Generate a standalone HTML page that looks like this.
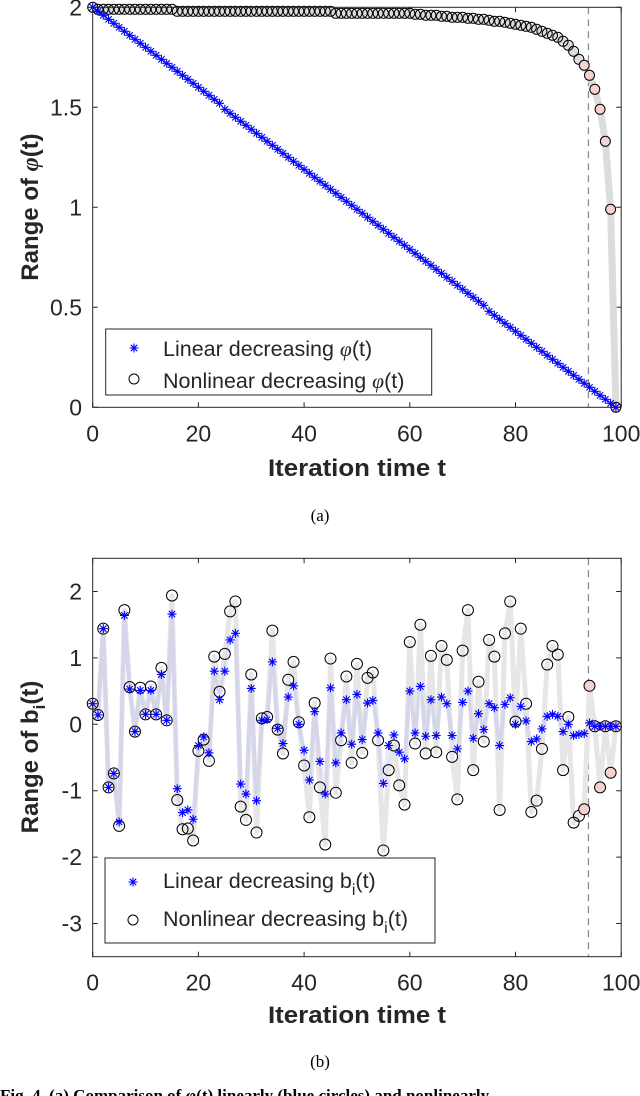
<!DOCTYPE html>
<html><head><meta charset="utf-8">
<style>
html,body{margin:0;padding:0;background:#fff;}
svg{display:block;}
text{font-family:"Liberation Sans",sans-serif;fill:#262626;}
</style></head>
<body>
<svg id="fig" width="640" height="1096" viewBox="0 0 640 1096" xmlns="http://www.w3.org/2000/svg">
<g id="chartA"></g>
<g id="chartB"></g>
<text x="320" y="521" text-anchor="middle" style="font-family:'Liberation Serif',serif;font-size:17px;fill:#000">(a)</text>
<text x="320" y="1067" text-anchor="middle" style="font-family:'Liberation Serif',serif;font-size:17px;fill:#000">(b)</text>
<text x="0" y="1101" style="font-family:'Liberation Serif',serif;font-size:17px;font-weight:bold;fill:#000">Fig. 4.  (a) Comparison of φ(t) linearly (blue circles) and nonlinearly</text>
</svg>
<script>
// ---- data: chart (a) ----
const tA = [0,1,2,3,4,5,6,7,8,9,10,11,12,13,14,15,16,17,18,19,20,21,22,23,24,25,26,27,28,29,30,31,32,33,34,35,36,37,38,39,40,41,42,43,44,45,46,47,48,49,50,51,52,53,54,55,56,57,58,59,60,61,62,63,64,65,66,67,68,69,70,71,72,73,74,75,76,77,78,79,80,81,82,83,84,85,86,87,88,89,90,91,92,93,94,95,96,97,98,99];
const phiLinear = [2.00,1.98,1.96,1.94,1.92,1.90,1.88,1.86,1.84,1.82,
1.80,1.78,1.76,1.74,1.72,1.70,1.68,1.66,1.64,1.62,
1.60,1.58,1.56,1.54,1.52,1.49,1.47,1.45,1.43,1.41,
1.39,1.37,1.35,1.33,1.31,1.29,1.27,1.25,1.23,1.21,
1.19,1.17,1.15,1.13,1.11,1.09,1.07,1.05,1.03,1.01,
0.99,0.97,0.95,0.93,0.91,0.89,0.87,0.85,0.83,0.81,
0.79,0.77,0.75,0.73,0.71,0.69,0.67,0.65,0.63,0.61,
0.59,0.57,0.55,0.53,0.51,0.48,0.46,0.44,0.42,0.40,
0.38,0.36,0.34,0.32,0.30,0.28,0.26,0.24,0.22,0.20,
0.18,0.16,0.14,0.12,0.10,0.08,0.06,0.04,0.02,0.00];
const phiNonlinear = [2.00,
1.99,1.99,1.99,1.99,1.99,1.99,1.99,1.99,1.99,1.99,1.99,1.99,1.99,1.99,1.99,
1.98,1.98,1.98,1.98,1.98,1.98,1.98,1.98,1.98,1.98,1.98,1.98,1.98,1.98,1.98,
1.98,1.98,1.98,1.98,1.98,1.98,1.98,1.98,1.98,1.98,1.98,1.98,1.98,1.98,1.98,
1.97,1.97,1.97,1.97,1.97,1.97,1.97,1.97,1.97,1.97,1.97,1.97,1.97,1.97,1.97,
1.965,1.965,1.96,1.96,1.96,1.955,1.955,1.95,
1.95,1.95,1.945,1.945,1.94,1.94,
1.935,1.93,1.93,1.925,1.92,
1.915,1.91,1.905,
1.90,1.89,
1.88,1.87,1.86,1.85,1.83,1.81,1.78,1.74,1.71,1.66,1.59,1.49,1.33,0.99,0.00];
const xTicks = [0,20,40,60,80,100];
const xTickLabels = ["0","20","40","60","80","100"];
const yTicksA = [0,0.5,1,1.5,2];
const yTickLabelsA = ["0","0.5","1","1.5","2"];
// ---- data: chart (b) ----
const bLinear = [0.31,0.14,1.44,-0.95,-0.74,-1.47,1.64,0.53,-0.11,0.51,
0.15,0.51,0.15,0.75,0.06,1.66,-0.97,-1.33,-1.29,-1.43,
-0.32,-0.19,-0.43,0.80,0.37,0.80,1.27,1.37,-0.90,-1.05,
0.54,-1.15,0.06,0.07,0.94,-0.06,-0.29,0.41,0.58,0.00,
-0.39,-0.84,0.19,-0.56,-1.05,0.55,-0.58,-0.13,0.37,-0.30,
0.45,-0.23,0.32,0.36,-0.13,-0.89,-0.32,-0.16,-0.42,-0.52,
0.50,-0.13,0.57,-0.18,0.37,-0.17,0.41,0.31,-0.17,-0.37,
0.33,0.50,-0.21,0.16,-0.08,0.31,0.25,-0.32,0.30,0.40,
0.00,0.27,0.05,-0.26,-0.22,-0.07,0.12,0.15,0.12,-0.11,
0.00,-0.17,-0.15,-0.14,0.02,-0.03,-0.03,-0.03,-0.03,-0.03];
const bNonlinear = [0.31,0.14,1.44,-0.95,-0.74,-1.53,1.72,0.56,-0.11,0.55,
0.15,0.57,0.15,0.85,0.06,1.94,-1.14,-1.58,-1.57,-1.75,
-0.40,-0.23,-0.55,1.02,0.49,1.06,1.70,1.85,-1.24,-1.44,
0.75,-1.63,0.09,0.11,1.41,-0.08,-0.44,0.67,0.94,0.03,
-0.62,-1.40,0.32,-0.95,-1.81,0.99,-1.03,-0.24,0.72,-0.58,
0.91,-0.43,0.70,0.78,-0.24,-1.90,-0.69,-0.32,-0.92,-1.21,
1.24,-0.29,1.50,-0.44,1.03,-0.42,1.18,0.97,-0.49,-1.13,
1.11,1.72,-0.69,0.64,-0.26,1.27,1.02,-1.29,1.37,1.85,
0.04,1.44,0.31,-1.32,-1.15,-0.37,0.90,1.18,1.05,-0.69,
0.11,-1.48,-1.38,-1.28,0.58,-0.03,-0.95,-0.03,-0.73,-0.03];
const yTicksB = [-3,-2,-1,0,1,2];
const yTickLabelsB = ["-3","-2","-1","0","1","2"];
const highlightStart = 93;
const switchTime = 93.8;

const NS = "http://www.w3.org/2000/svg";
function mk(tag, attrs, parent){const e=document.createElementNS(NS,tag);for(const k in attrs)e.setAttribute(k,attrs[k]);parent.appendChild(e);return e;}

const X0=92.7, X1=621.2;
function xs(t){return X0+(t/100)*(X1-X0);}

function drawAxes(g, top, bottom, yScale, yT, yL){
  mk("rect",{x:X0,y:top,width:X1-X0,height:bottom-top,fill:"#fff",stroke:"none"},g);
  xTicks.forEach((t,i)=>{
    const x=xs(t);
    const tk=mk("path",{d:`M${x},${bottom}v-5M${x},${top}v5`,stroke:"#262626","stroke-width":1},g);
    
    
    const lb=mk("text",{x:x,y:bottom+34,"text-anchor":"middle","font-size":"23"},g);
    lb.textContent=xTickLabels[i];
    
    
  });
  yT.forEach((v,i)=>{
    const y=yScale(v);
    const tk=mk("path",{d:`M${X0},${y}h5M${X1},${y}h-5`,stroke:"#262626","stroke-width":1},g);
    
    
    const lb=mk("text",{x:82,y:y+8,"text-anchor":"end","font-size":"23"},g);
    lb.textContent=yL[i];
    
    
  });
}
function star(g,x,y){
  return mk("path",{d:`M${x-4.5},${y}h9M${x},${y-4.5}v9M${x-3.2},${y-3.2}l6.4,6.4M${x-3.2},${y+3.2}l6.4,-6.4`,stroke:"#0000ff","stroke-width":1.1},g);
}
function frame(g,top,bottom){
  const f=mk("rect",{x:X0,y:top,width:X1-X0,height:bottom-top,fill:"none",stroke:"#262626","stroke-width":1},g);
  
  
}

// ---------- Chart A ----------
(function(){
  const g=document.getElementById("chartA");
  const top=7.3,bottom=407.3;
  const ys=v=>bottom-(v/2)*(bottom-top);
  drawAxes(g,top,bottom,ys,yTicksA,yTickLabelsA);
  const dl=mk("line",{x1:xs(switchTime),x2:xs(switchTime),y1:top,y2:bottom,stroke:"#8c8c8c","stroke-width":1.3,"stroke-dasharray":"7,5"},g);
  
  
  const gl=mk("polyline",{points:tA.map((t,i)=>xs(t)+","+ys(phiNonlinear[i])).join(" "),fill:"none",stroke:"#dcdcdc","stroke-width":7,"stroke-linejoin":"round"},g);
  
  
  tA.forEach((t,i)=>{
    const c=mk("circle",{cx:xs(t),cy:ys(phiNonlinear[i]),r:5,fill:t>=highlightStart?"#f8d0d0":"none",stroke:"#000","stroke-width":1},g);
    
    
  });
  tA.forEach((t,i)=>{
    const s=star(g,xs(t),ys(phiLinear[i]));
    
    
  });
  frame(g,top,bottom);
  const lg=mk("g",{},g);
  
  
  mk("rect",{x:105.7,y:329,width:326,height:66,fill:"#fff",stroke:"#262626","stroke-width":1},lg);
  star(lg,134,348);
  mk("circle",{cx:134,cy:379,r:5,fill:"none",stroke:"#000"},lg);
  const t1=mk("text",{x:163,y:356,"font-size":"21.5"},lg);
  t1.innerHTML='Linear decreasing <tspan font-family="Liberation Serif" font-style="italic">φ</tspan>(t)';
  
  
  const t2=mk("text",{x:163,y:388,"font-size":"21.5"},lg);
  t2.innerHTML='Nonlinear decreasing <tspan font-family="Liberation Serif" font-style="italic">φ</tspan>(t)';
  
  
  const xt=mk("text",{x:357,y:476,"text-anchor":"middle","font-size":"24","font-weight":"bold",textLength:178,lengthAdjust:"spacingAndGlyphs"},g);
  xt.textContent="Iteration time t";
  
  
  const yt=mk("text",{x:0,y:0,"text-anchor":"middle","font-size":"24","font-weight":"bold",transform:"translate(38,207) rotate(-90)"},g);
  yt.innerHTML='Range of <tspan font-family="Liberation Serif" font-style="italic">φ</tspan>(t)';
  
  
})();

// ---------- Chart B ----------
(function(){
  const g=document.getElementById("chartB");
  const top=558.3,bottom=956.7,vmin=-3.5,vmax=2.5;
  const ys=v=>bottom-(v-vmin)/(vmax-vmin)*(bottom-top);
  drawAxes(g,top,bottom,ys,yTicksB,yTickLabelsB);
  const dl=mk("line",{x1:xs(switchTime),x2:xs(switchTime),y1:top,y2:bottom,stroke:"#8c8c8c","stroke-width":1.3,"stroke-dasharray":"7,5"},g);
  
  
  const gl=mk("polyline",{points:tA.map((t,i)=>xs(t)+","+ys(bNonlinear[i])).join(" "),fill:"none",stroke:"#e6e6e6","stroke-width":5,"stroke-linejoin":"round"},g);
  
  
  const bl=mk("polyline",{points:tA.map((t,i)=>xs(t)+","+ys(bLinear[i])).join(" "),fill:"none",stroke:"rgba(150,150,255,0.2)","stroke-width":4,"stroke-linejoin":"round"},g);
  
  
  tA.forEach((t,i)=>{
    const c=mk("circle",{cx:xs(t),cy:ys(bNonlinear[i]),r:5.5,fill:t>=highlightStart?"#f8d0d0":"none",stroke:"#000","stroke-width":1},g);
    
    
  });
  tA.forEach((t,i)=>{
    const s=star(g,xs(t),ys(bLinear[i]));
    
    
  });
  frame(g,top,bottom);
  const lg=mk("g",{},g);
  
  
  mk("rect",{x:105,y:858,width:330,height:85,fill:"#fff",stroke:"#262626","stroke-width":1},lg);
  star(lg,133,882);
  mk("circle",{cx:133,cy:920,r:5,fill:"none",stroke:"#000"},lg);
  const t1=mk("text",{x:163,y:888,"font-size":"21.5"},lg);
  t1.innerHTML='Linear decreasing b<tspan dy="7" font-size="16">i</tspan><tspan dy="-7">(t)</tspan>';
  
  
  const t2=mk("text",{x:163,y:926,"font-size":"21.5"},lg);
  t2.innerHTML='Nonlinear decreasing b<tspan dy="7" font-size="16">i</tspan><tspan dy="-7">(t)</tspan>';
  
  
  const xt=mk("text",{x:357,y:1023,"text-anchor":"middle","font-size":"24","font-weight":"bold",textLength:178,lengthAdjust:"spacingAndGlyphs"},g);
  xt.textContent="Iteration time t";
  
  
  const yt=mk("text",{x:0,y:0,"text-anchor":"middle","font-size":"24","font-weight":"bold",transform:"translate(38,757) rotate(-90)"},g);
  yt.innerHTML='Range of b<tspan dy="7" font-size="17">i</tspan><tspan dy="-7">(t)</tspan>';
  
  
})();
</script>
</body></html>
